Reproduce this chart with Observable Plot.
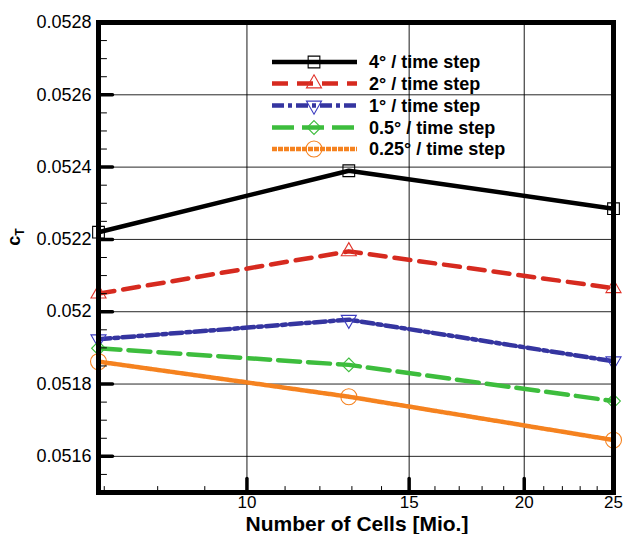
<!DOCTYPE html>
<html><head><meta charset="utf-8">
<script src="https://cdn.jsdelivr.net/npm/d3@7"></script>
<script src="https://cdn.jsdelivr.net/npm/@observablehq/plot@0.6"></script>
<style>html,body{margin:0;padding:0;background:#fff} svg{display:block}</style>
</head><body><div id="chart"></div>
<script>
// ---- data ----
const cells = [6.9, 12.9, 25];
const ct4   = [0.05222, 0.05239, 0.052285];
const ct2   = [0.05205, 0.052167, 0.052065];
const ct1   = [0.051924, 0.051978, 0.051863];
const ct05  = [0.051899, 0.051853, 0.051753];
const ct025 = [0.051862, 0.051765, 0.051645];
const seriesNames = ["4° / time step", "2° / time step", "1° / time step", "0.5° / time step", "0.25° / time step"];
const xTickLabels = [10, 15, 20, 25];
const xMinorTicks = [7, 8, 9, 11, 12, 13, 14, 16, 17, 18, 19, 21, 22, 23, 24];
const yTickLabels = [0.0516, 0.0518, 0.052, 0.0522, 0.0524, 0.0526, 0.0528];
const yMinorTicks = d3.range(1031, 1056).filter(i => i % 4 !== 0).map(i => +(i * 0.00005).toFixed(5));
const xDomain = [6.9, 25];
const yDomain = [0.0515, 0.0528];

// custom downward triangle symbol
const triangleDown = {
  draw(context, size) {
    const y = -Math.sqrt(size / (Math.sqrt(3) * 3));
    context.moveTo(0, -y * 2);
    context.lineTo(-Math.sqrt(3) * y, y);
    context.lineTo(Math.sqrt(3) * y, y);
    context.closePath();
  }
};

const styles = [
  {vals: ct4,   line: "#000000", mark: "#000000", dash: null,        symbol: "square",   r: 6.6},
  {vals: ct2,   line: "#d62a1f", mark: "#e0332a", dash: "16,9",      symbol: "triangle", r: 5.6},
  {vals: ct1,   line: "#3535a0", mark: "#3d3dc0", dash: "12,4,4,4",  symbol: triangleDown, r: 5.6},
  {vals: ct05,  line: "#3dbd3d", mark: "#3dbd3d", dash: "22,8",      symbol: "diamond2", r: 6.2},
  {vals: ct025, line: "#f5821f", mark: "#f5821f", dash: "5,1",       symbol: "circle",   r: 8}
];

const tickShape = {draw(ctx, l) { ctx.moveTo(0, 0); ctx.lineTo(0, -l); }};

const marks = [
  Plot.gridX(xTickLabels.slice(0, 3), {stroke: "#000", strokeOpacity: 0.9, strokeWidth: 1}),
  Plot.gridY(yTickLabels.slice(0, 6), {stroke: "#000", strokeOpacity: 0.85, strokeWidth: 1}),
];
styles.forEach(s => {
  const rows = cells.map((x, i) => ({x, y: s.vals[i]}));
  marks.push(Plot.line(rows, {x: "x", y: "y", stroke: s.line, strokeWidth: 4.5, strokeDasharray: s.dash}));
});
styles.forEach(s => {
  const rows = cells.map((x, i) => ({x, y: s.vals[i]}));
  marks.push(Plot.dot(rows, {x: "x", y: "y", symbol: s.symbol, r: s.r, stroke: s.mark, strokeWidth: 1.1, fill: "none"}));
});
marks.push(
  Plot.frame({stroke: "#000", strokeWidth: 5}),
  Plot.vector(yTickLabels, {y: d => d, frameAnchor: "left", rotate: 90, anchor: "start", length: 14, shape: tickShape, stroke: "#000", strokeWidth: 3.5}),
  Plot.vector(yMinorTicks, {y: d => d, frameAnchor: "left", rotate: 90, anchor: "start", length: 8, shape: tickShape, stroke: "#000", strokeWidth: 1}),
  Plot.vector(xTickLabels.slice(0, 3), {x: d => d, frameAnchor: "bottom", rotate: 0, anchor: "start", length: 14, shape: tickShape, stroke: "#000", strokeWidth: 3.5}),
  Plot.vector(xMinorTicks, {x: d => d, frameAnchor: "bottom", rotate: 0, anchor: "start", length: 6, shape: tickShape, stroke: "#000", strokeWidth: 1}),
  Plot.axisY(yTickLabels, {tickSize: 0, tickPadding: 7, tickFormat: d => String(d), fontSize: 18, fill: "#000", label: null}),
  Plot.axisX(xTickLabels, {tickSize: 0, tickPadding: 3, tickFormat: d => String(d), fontSize: 17, fill: "#000", label: null})
);

const svg = Plot.plot({
  width: 623,
  height: 534,
  marginLeft: 98,
  marginRight: 10,
  marginTop: 22,
  marginBottom: 42,
  style: {fontFamily: "'Liberation Sans', Arial, sans-serif", background: "#fff", color: "#000"},
  x: {type: "log", domain: xDomain},
  y: {domain: yDomain},
  marks
});

const sel = d3.select(svg);
const FONT = "'Liberation Sans', Arial, sans-serif";
// x-axis title
sel.append("text")
  .attr("x", 357).attr("y", 531)
  .attr("text-anchor", "middle")
  .attr("font-family", FONT)
  .attr("font-weight", "bold").attr("font-size", 21)
  .attr("fill", "#000")
  .text("Number of Cells [Mio.]");
// y-axis title c_T
const yt = sel.append("text")
  .attr("transform", "translate(20,237) rotate(-90)")
  .attr("text-anchor", "middle")
  .attr("font-family", FONT)
  .attr("font-weight", "bold")
  .attr("fill", "#000");
yt.append("tspan").attr("font-size", 18).text("c");
yt.append("tspan").attr("font-size", 12).attr("dy", 4).text("T");

// legend
const lg = sel.append("g").attr("text-anchor", "start");
const rowY = [62, 83.5, 105.5, 127.5, 149];
styles.forEach((s, i) => {
  const y = rowY[i];
  lg.append("line").attr("x1", 272).attr("x2", 357).attr("y1", y).attr("y2", y)
    .attr("stroke", s.line).attr("stroke-width", 4.5)
    .attr("stroke-dasharray", s.dash);
  const sym = typeof s.symbol === "string"
    ? ({square: d3.symbolSquare, triangle: d3.symbolTriangle, diamond2: d3.symbolDiamond2, circle: d3.symbolCircle})[s.symbol]
    : s.symbol;
  lg.append("path")
    .attr("d", d3.symbol(sym, s.r * s.r * Math.PI)())
    .attr("transform", `translate(314,${y})`)
    .attr("fill", "none").attr("stroke", s.mark).attr("stroke-width", 1.1);
  lg.append("text").attr("x", 369).attr("y", y).attr("dy", "0.36em")
    .attr("text-anchor", "start")
    .attr("font-family", FONT)
    .attr("font-weight", "bold").attr("font-size", 18).attr("fill", "#000")
    .text(seriesNames[i]);
});

document.getElementById("chart").appendChild(svg);
</script>
</body></html>
